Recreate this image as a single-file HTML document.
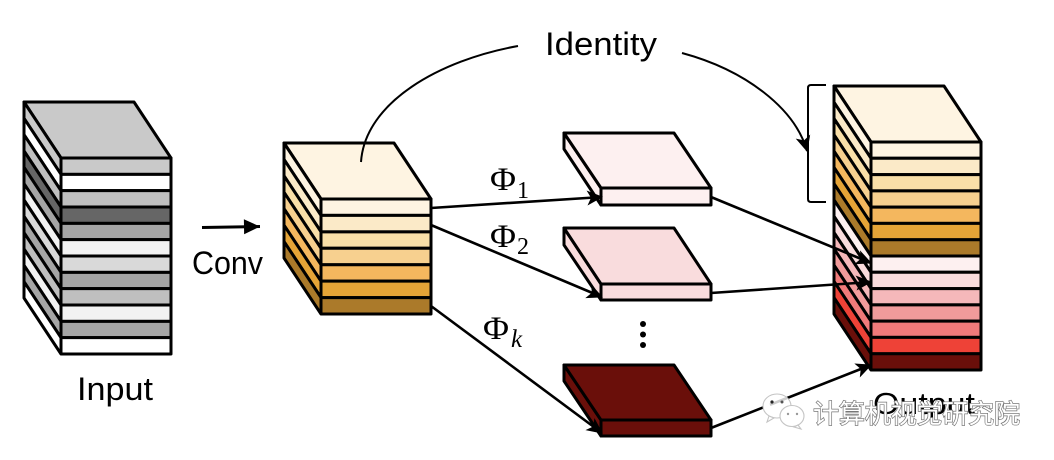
<!DOCTYPE html>
<html>
<head>
<meta charset="utf-8">
<style>
html,body{margin:0;padding:0;background:#fff;width:1054px;height:460px;overflow:hidden}
svg{display:block}
.c use,.c path,.c polygon,.c rect{stroke:#000;stroke-width:3;stroke-linejoin:round}
text{font-family:"Liberation Sans","Noto Sans CJK SC",sans-serif;fill:#000}
.p{font-family:"Liberation Serif",serif}
</style>
</head>
<body>
<svg width="1054" height="460" viewBox="0 0 1054 460" xmlns="http://www.w3.org/2000/svg">
<defs>
<marker id="h" markerUnits="userSpaceOnUse" markerWidth="18" markerHeight="18" refX="15" refY="8" orient="auto" viewBox="0 0 18 16">
<path d="M0 0.5L16 8L0 15.5L4 8Z" fill="#000"/>
</marker>
<marker id="g" markerUnits="userSpaceOnUse" markerWidth="18" markerHeight="16" refX="17" refY="8" orient="auto" viewBox="0 0 18 16">
<path d="M1 0.5L17 8L1 15.5Z" fill="#000"/>
</marker>
<path id="a" d="M24 102L61 158H171V174.33H61L24 118.33ZM61 158V174.33"/>
<path id="b" d="M284 143L321 199H431V215.43H321L284 159.43ZM321 199V215.43"/>
<path id="o" d="M834 86L871 142H981V158.29H871L834 102.29ZM871 142V158.29"/>
</defs>

<!-- Input cube -->
<g class="c">
<polygon points="24,102 134,102 171,158 61,158" fill="#c9c9c9"/>
<use href="#a" fill="#c9c9c9"/>
<use href="#a" y="16.33" fill="#ffffff"/>
<use href="#a" y="32.67" fill="#bfbfbf"/>
<use href="#a" y="49" fill="#666666"/>
<use href="#a" y="65.33" fill="#a5a5a5"/>
<use href="#a" y="81.67" fill="#f2f2f2"/>
<use href="#a" y="98" fill="#d9d9d9"/>
<use href="#a" y="114.33" fill="#a5a5a5"/>
<use href="#a" y="130.67" fill="#bfbfbf"/>
<use href="#a" y="147" fill="#f2f2f2"/>
<use href="#a" y="163.33" fill="#a5a5a5"/>
<use href="#a" y="179.67" fill="#ffffff"/>
</g>

<!-- Conv cube -->
<g class="c">
<polygon points="284,143 394,143 431,199 321,199" fill="#fef4e2"/>
<use href="#b" fill="#fef4e2"/>
<use href="#b" y="16.43" fill="#fbeac8"/>
<use href="#b" y="32.86" fill="#f9dfa8"/>
<use href="#b" y="49.29" fill="#f7d08f"/>
<use href="#b" y="65.71" fill="#f4b75e"/>
<use href="#b" y="82.14" fill="#e5a437"/>
<use href="#b" y="98.57" fill="#ab7a2a"/>
</g>

<!-- Thin feature maps -->
<g class="c">
<path d="M564 133L601 188V205L564 149Z" fill="#fdf0f0"/>
<polygon points="564,133 674,133 711,188 601,188" fill="#fdf0f0"/>
<rect x="601" y="188" width="110" height="17" fill="#fdf0f0"/>
<path d="M564 228L601 284V300L564 245Z" fill="#f9dcdd"/>
<polygon points="564,228 674,228 711,284 601,284" fill="#f9dcdd"/>
<rect x="601" y="284" width="110" height="16" fill="#f9dcdd"/>
<path d="M564 365L601 420V436L564 381Z" fill="#6a0f0a"/>
<polygon points="564,365 674,365 711,420 601,420" fill="#6a0f0a"/>
<rect x="601" y="420" width="110" height="16" fill="#6a0f0a"/>
</g>

<!-- Output cube -->
<g class="c">
<polygon points="834,86 944,86 981,142 871,142" fill="#fef4e2"/>
<use href="#o" fill="#fef4e2"/>
<use href="#o" y="16.29" fill="#fbeac8"/>
<use href="#o" y="32.57" fill="#f9dfa8"/>
<use href="#o" y="48.86" fill="#f7d08f"/>
<use href="#o" y="65.14" fill="#f4b75e"/>
<use href="#o" y="81.43" fill="#e5a437"/>
<use href="#o" y="97.71" fill="#ab7a2a"/>
<use href="#o" y="114" fill="#fdf0f0"/>
<use href="#o" y="130.29" fill="#f9dcdd"/>
<use href="#o" y="146.57" fill="#f5b8ba"/>
<use href="#o" y="162.86" fill="#f19b9b"/>
<use href="#o" y="179.14" fill="#f07a7a"/>
<use href="#o" y="195.43" fill="#ee4237"/>
<use href="#o" y="211.71" fill="#6a0f0a"/>
</g>

<!-- Connectors -->
<line x1="202" y1="227.5" x2="260" y2="226.5" stroke="#000" stroke-width="3" marker-end="url(#g)"/>
<g fill="none" stroke="#000" stroke-width="2.6" marker-end="url(#h)">
<line x1="431" y1="208" x2="602" y2="197"/>
<line x1="431" y1="225" x2="602" y2="297"/>
<line x1="431" y1="306" x2="602" y2="433"/>
<line x1="711" y1="197" x2="871" y2="263"/>
<line x1="711" y1="293" x2="871" y2="282"/>
<line x1="711" y1="428" x2="871" y2="365"/>
</g>
<path d="M361 162C365 102 440 60 518 46" fill="none" stroke="#000" stroke-width="2"/>
<path d="M682 53C745 70 795 108 807 151" fill="none" stroke="#000" stroke-width="2" marker-end="url(#h)"/>
<path d="M826 85H811Q808 85 808 88V199Q808 202 811 202H826" fill="none" stroke="#000" stroke-width="2"/>

<circle cx="643" cy="324" r="3"/>
<circle cx="643" cy="334.5" r="3"/>
<circle cx="643" cy="345" r="3"/>

<!-- Labels -->
<text x="545" y="55" font-size="32" textLength="112" lengthAdjust="spacingAndGlyphs">Identity</text>
<text x="77" y="400" font-size="32" textLength="76" lengthAdjust="spacingAndGlyphs">Input</text>
<text x="192" y="274" font-size="32" textLength="71" lengthAdjust="spacingAndGlyphs">Conv</text>
<text x="873" y="414" font-size="31" textLength="102" lengthAdjust="spacingAndGlyphs">Output</text>

<text class="p" x="490" y="190" font-size="33" textLength="26" lengthAdjust="spacingAndGlyphs">Φ</text>
<text class="p" x="517" y="198" font-size="24">1</text>
<text class="p" x="490" y="247" font-size="33" textLength="26" lengthAdjust="spacingAndGlyphs">Φ</text>
<text class="p" x="517" y="254" font-size="24">2</text>
<text class="p" x="483" y="339" font-size="33" textLength="26" lengthAdjust="spacingAndGlyphs">Φ</text>
<text class="p" x="511" y="347" font-size="25" font-style="italic">k</text>

<!-- Watermark -->
<g fill="#fff" stroke="#c4c4c4" stroke-width="1.1">
<ellipse cx="777" cy="406" rx="14" ry="12"/>
<path d="M769 416l-2 6 7-4z"/>
<ellipse cx="792" cy="416" rx="12" ry="10.5"/>
<path d="M798 425l3 4-7-2z"/>
</g>
<line x1="770" y1="404.8" x2="787" y2="398" stroke="#ccc" stroke-width="2.6"/>
<circle cx="772" cy="402" r="1.6" fill="#222"/><circle cx="782" cy="402" r="1.5" fill="#555"/>
<circle cx="788" cy="414" r="1.2" fill="#999"/><circle cx="797" cy="414" r="1.2" fill="#999"/>
<text x="813" y="423" font-size="26" textLength="207" style="fill:#fff;stroke:#777;stroke-width:1.4;paint-order:stroke;font-family:'Liberation Sans','Noto Sans CJK SC',sans-serif">计算机视觉研究院</text>
</svg>
</body>
</html>
